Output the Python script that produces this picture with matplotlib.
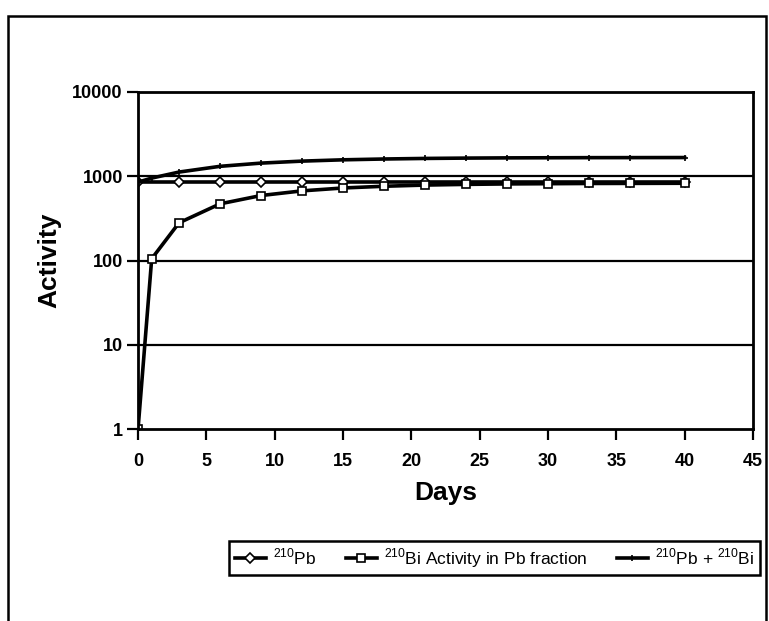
import matplotlib.pyplot as plt
from matplotlib.patches import Rectangle

plt.rcParams['font.family'] = ['Liberation Sans', 'DejaVu Sans']
plt.rcParams['mathtext.fontset'] = 'custom'
plt.rcParams['mathtext.rm'] = 'Liberation Sans'

# Days sampled
days = [0, 1, 3, 6, 9, 12, 15, 18, 21, 24, 27, 30, 33, 36, 40]
pb_days = [0, 3, 6, 9, 12, 15, 18, 21, 24, 27, 30, 33, 36, 40]

# Activities
pb210 = [850, 850, 850, 850, 850, 850, 850, 850, 850, 850, 850, 850, 850, 850]
bi210 = [1, 105, 280, 470, 590, 670, 725, 760, 785, 800, 810, 815, 820, 822, 825]
pb_bi = [850, 950, 1120, 1310, 1430, 1510, 1565, 1600, 1625, 1640, 1650, 1655, 1660, 1662, 1665]

fig = plt.figure(figsize=(7.69, 6.21), dpi=100)
ax = fig.add_axes([0.1795, 0.309, 0.7995, 0.543])

ax.plot(pb_days, pb210, color='black', lw=2.6, marker='D', ms=5.5,
        mfc='white', mec='black', mew=1.2, label=r'$^{210}$Pb')
ax.plot(days, bi210, color='black', lw=2.6, marker='s', ms=5.5,
        mfc='white', mec='black', mew=1.2, label=r'$^{210}$Bi Activity in Pb fraction')
ax.plot(days, pb_bi, color='black', lw=2.6, marker='+', ms=5, mew=1.2,
        label=r'$^{210}$Pb + $^{210}$Bi')

ax.set_yscale('log')
ax.set_ylim(1, 10000)
ax.set_xlim(0, 45)
ax.set_xticks(range(0, 50, 5))
ax.set_yticks([1, 10, 100, 1000, 10000])
ax.set_yticklabels(['1', '10', '100', '1000', '10000'])
ax.minorticks_off()
for v in [10, 100, 1000]:
    ax.axhline(v, color='black', lw=1.6, zorder=0)

for s in ax.spines.values():
    s.set_linewidth(2)
ax.tick_params(axis='both', direction='out', length=8, width=1.6, labelsize=13)
ax.tick_params(axis='x', pad=9)
ax.tick_params(axis='y', pad=3)
for lab in ax.get_xticklabels() + ax.get_yticklabels():
    lab.set_fontweight('bold')

ax.set_xlabel('Days', fontsize=19, fontweight='bold', labelpad=8)
ax.set_ylabel('Activity', fontsize=19, fontweight='bold', labelpad=8)

leg = fig.legend(loc='center', bbox_to_anchor=(0.643, 0.1014), ncol=3,
                 fontsize=12.5, handlelength=1.8, handletextpad=0.4,
                 columnspacing=1.7, fancybox=False, edgecolor='black',
                 framealpha=1, borderpad=0.3, borderaxespad=0)
leg.get_frame().set_linewidth(1.8)

# outer border of the figure
fig.patches.append(Rectangle((0.011, -0.05), 0.985, 1.025, transform=fig.transFigure,
                             fill=False, edgecolor='black', lw=1.8))

fig.savefig('out.png', dpi=100)
